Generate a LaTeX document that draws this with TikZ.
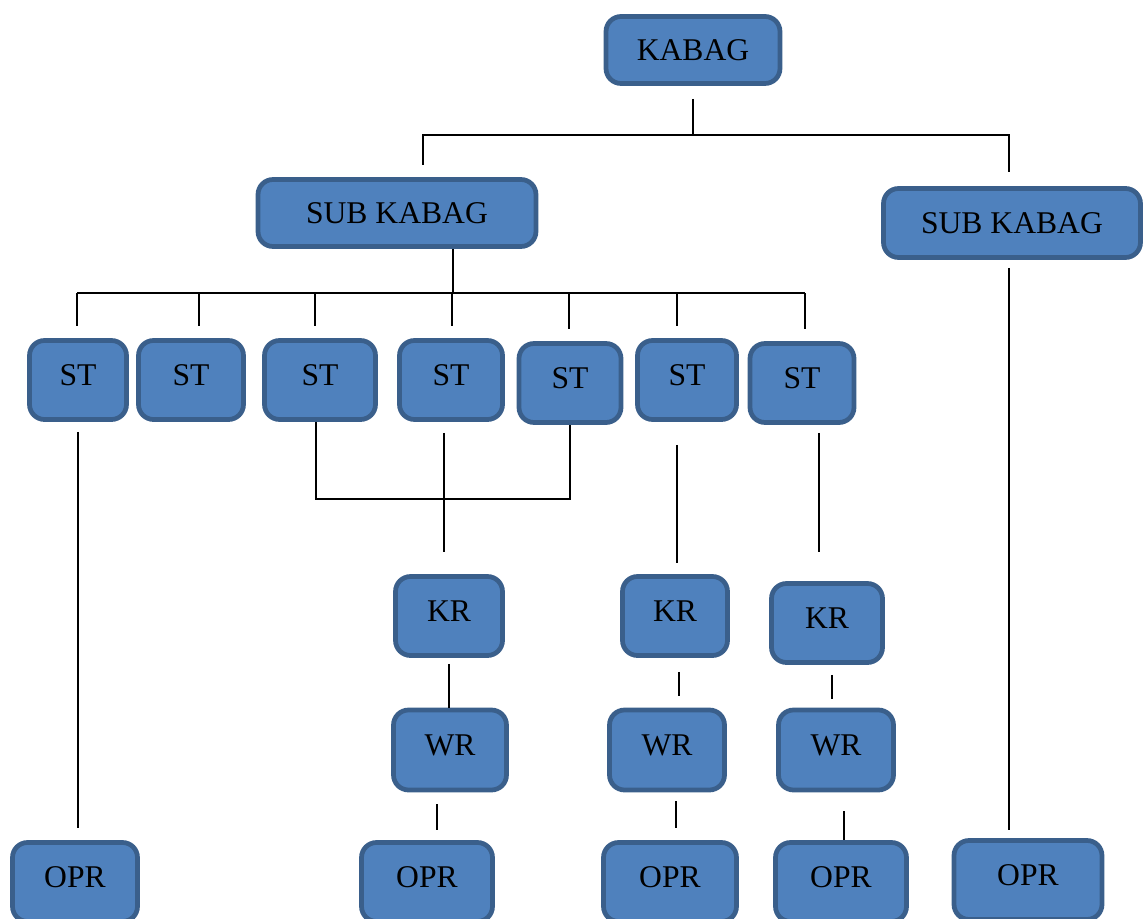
\documentclass[tikz,border=0pt]{standalone}
\usepackage{fontspec}
\setmainfont{Liberation Serif}
\usetikzlibrary{positioning,calc}
\definecolor{boxblue}{HTML}{4F81BD}
\definecolor{boxedge}{HTML}{3A5F8B}

\begin{document}
\begin{tikzpicture}[
    x=0.02cm, y=-0.02cm,
    unit/.style={draw=boxedge, fill=boxblue, line width=2.7pt, rounded corners=0.3cm, inner sep=0pt,
                 font=\fontsize{18}{20}\selectfont, text height=0.42cm, text depth=0.2cm},
    head/.style={unit, text depth=0pt},
    conn/.style={line width=1.1pt, black}
]
\useasboundingbox (0,0) rectangle (1144,919);
\clip (0,0) rectangle (1144,919);

% heads
\node[head, minimum width=3.48cm, minimum height=1.34cm] (kabag) at (693,50) {KABAG};
\node[head, minimum width=5.56cm, minimum height=1.34cm] (subL) at (397,213) {SUB KABAG};
\node[head, minimum width=5.14cm, minimum height=1.38cm] (subR) at (1012,223) {SUB KABAG};

% staff row
\foreach \n/\x/\y/\w in {1/78/380/1.94, 2/191/380/2.1, 3/320/380/2.22, 4/451/380/2.06,
                         5/570/383/2.04, 6/687/380/1.98, 7/802/383/2.08}
  \node[unit, minimum width=\w cm, minimum height=1.58cm] (st\n) at (\x,\y) {ST};

\foreach \n/\x/\y/\w in {1/449/616/2.14, 2/675/616/2.1, 3/827/623/2.22}
  \node[unit, minimum width=\w cm, minimum height=1.58cm] (kr\n) at (\x,\y) {KR};

\foreach \n/\x/\w in {1/450/2.26, 2/667/2.3, 3/836/2.3}
  \node[unit, minimum width=\w cm, minimum height=1.6cm] (wr\n) at (\x,750) {WR};

\foreach \n/\x/\y/\w in {1/75/882/2.5, 2/427/882/2.62, 3/670/882/2.66, 4/841/882/2.62, 5/1028/880/2.96}
  \node[unit, minimum width=\w cm, minimum height=1.58cm] (opr\n) at (\x,\y) {OPR};

% top level
\coordinate (topbus) at (693,135);
\coordinate (tL) at (423,165);
\coordinate (tR) at (1009,172);
\draw[conn, shorten <=0.26cm] (kabag.south) -- (topbus);
\draw[conn] (tL) |- (topbus) -| (tR);

% staff bus
\coordinate (stbus) at (453,293);
\draw[conn] (subL.south -| stbus) -- (stbus);
\draw[conn] (stbus -| 77,0) -- (stbus -| 805,0);
\foreach \n/\x in {1/77, 2/199, 3/315, 4/452, 5/569, 6/677, 7/805}
  \draw[conn, shorten >=0.24cm] (stbus -| \x,0) -- (st\n.north -| \x,0);

% down lines
\coordinate (stjoin) at (0,499);
\draw[conn] ([xshift=-0.08cm]st3.south) |- (st5.south |- stjoin) -- (st5.south);
\draw[conn, shorten <=0.2cm, shorten >=0.24cm] (st1.south) -- (st1.south |- opr1.north);
\draw[conn, shorten <=0.22cm, shorten >=0.44cm] ([xshift=-0.14cm]st4.south) -- ([xshift=-0.14cm]st4.south |- kr1.north);
\draw[conn, shorten <=0.46cm, shorten >=0.22cm] ([xshift=-0.2cm]st6.south) -- ([xshift=-0.2cm]st6.south |- kr2.north);
\draw[conn, shorten <=0.16cm, shorten >=0.58cm] ([xshift=0.34cm]st7.south) -- ([xshift=0.34cm]st7.south |- kr3.north);
\draw[conn, shorten <=0.16cm, shorten >=0.16cm] ([xshift=-0.06cm]subR.south) -- ([xshift=-0.06cm]subR.south |- opr5.north);

\draw[conn, shorten <=0.12cm] (kr1.south) -- (kr1.south |- wr1.north);
\draw[conn, shorten <=0.28cm, shorten >=0.24cm] ([xshift=0.08cm]kr2.south) -- ([xshift=0.08cm]kr2.south |- wr2.north);
\draw[conn, shorten <=0.2cm, shorten >=0.18cm] ([xshift=0.1cm]kr3.south) -- ([xshift=0.1cm]kr3.south |- wr3.north);

\draw[conn, shorten <=0.24cm, shorten >=0.2cm] ([xshift=-0.26cm]wr1.south) -- ([xshift=-0.26cm]wr1.south |- opr2.north);
\draw[conn, shorten <=0.18cm, shorten >=0.24cm] ([xshift=0.18cm]wr2.south) -- ([xshift=0.18cm]wr2.south |- opr3.north);
\draw[conn, shorten <=0.38cm] ([xshift=0.16cm]wr3.south) -- ([xshift=0.16cm]wr3.south |- opr4.north);
\end{tikzpicture}
\end{document}
